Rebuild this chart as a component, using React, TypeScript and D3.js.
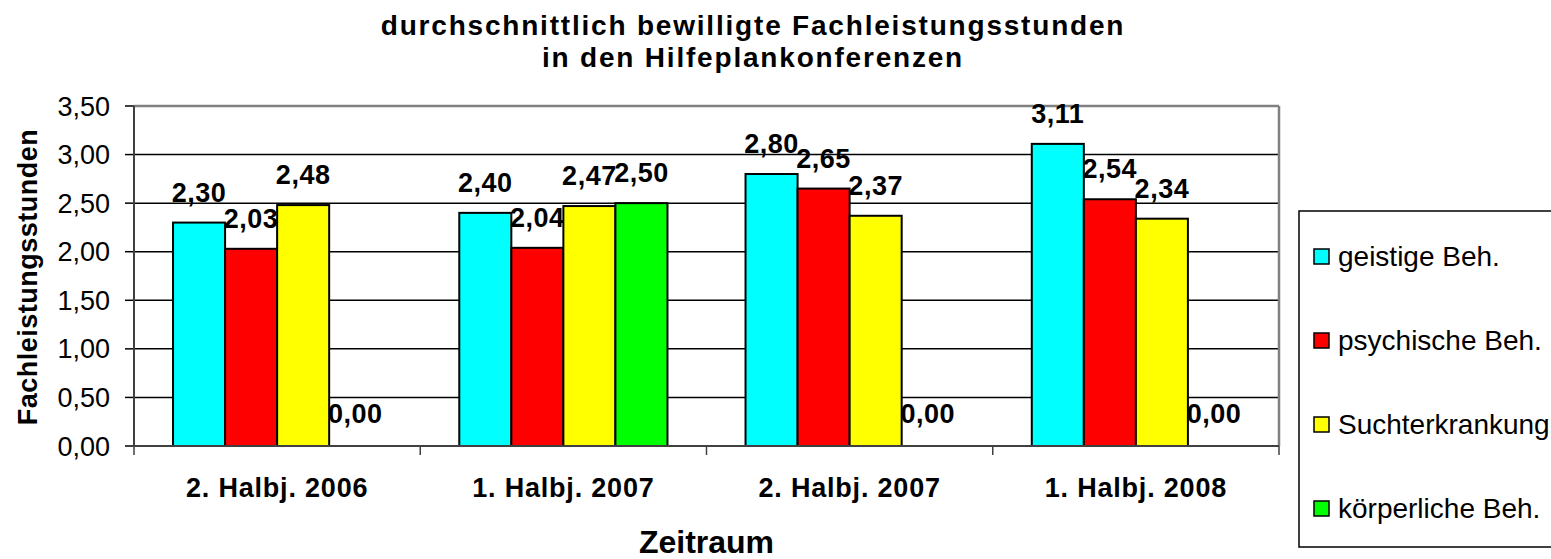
import React from "react";
import * as d3 from "d3";

const categories = ["2. Halbj. 2006", "1. Halbj. 2007", "2. Halbj. 2007", "1. Halbj. 2008"];
const seriesNames = ["geistige Beh.", "psychische Beh.", "Suchterkrankung", "körperliche Beh."];
const seriesColors = ["#00FFFF", "#FF0000", "#FFFF00", "#00FF00"];
const geistige = [2.3, 2.4, 2.8, 3.11];
const psychische = [2.03, 2.04, 2.65, 2.54];
const sucht = [2.48, 2.47, 2.37, 2.34];
const koerperlich = [0.0, 2.5, 0.0, 0.0];
const yTicks = [0, 0.5, 1, 1.5, 2, 2.5, 3, 3.5];
const titleLines = ["durchschnittlich bewilligte Fachleistungsstunden", "in den Hilfeplankonferenzen"];
const yTitle = "Fachleistungsstunden";
const xTitle = "Zeitraum";

const seriesValues = [geistige, psychische, sucht, koerperlich];

const W = 1551;
const H = 559;
const plot = { left: 134, right: 1279, top: 106, bottom: 446 };
const FONT = "Arial, 'Liberation Sans', sans-serif";

const fmt = (v: number) => d3.format(".2f")(v).replace(".", ",");

export default function App() {
  const x0 = d3.scaleBand<string>().domain(categories).range([plot.left, plot.right]).padding(0);
  const x1 = d3
    .scaleBand<string>()
    .domain(seriesNames)
    .range([0, x0.bandwidth()])
    .paddingInner(0)
    .paddingOuter(0.75);
  const y = d3.scaleLinear().domain([0, 3.5]).range([plot.bottom, plot.top]);

  const boundaries = categories.map((c) => x0(c) as number).concat([plot.right]);

  return (
    <svg
      width={W}
      height={H}
      style={{ position: "absolute", left: 0, top: 0, background: "#fff" }}
      fontFamily={FONT}
    >
      <rect x={0} y={0} width={W} height={H} fill="#fff" />
      {/* title */}
      {titleLines.map((t, i) => (
        <text
          key={i}
          x={753}
          y={35 + i * 32}
          textAnchor="middle"
          fontSize={28}
          fontWeight="bold"
          letterSpacing={1.8}
        >
          {t}
        </text>
      ))}
      {/* plot background */}
      <rect x={plot.left} y={plot.top} width={plot.right - plot.left} height={plot.bottom - plot.top} fill="#fff" />
      {/* gridlines */}
      {yTicks.slice(1).map((t) => (
        <line key={t} x1={plot.left} x2={plot.right} y1={y(t)} y2={y(t)} stroke="#000" strokeWidth={1.5} />
      ))}
      {/* plot border top/right */}
      <line x1={plot.left} x2={plot.right} y1={plot.top} y2={plot.top} stroke="#808080" strokeWidth={2.5} />
      <line x1={plot.right} x2={plot.right} y1={plot.top} y2={plot.bottom} stroke="#808080" strokeWidth={2.5} />
      {/* y ticks + labels */}
      {yTicks.map((t) => (
        <g key={"yt" + t}>
          <line x1={plot.left - 9} x2={plot.left} y1={y(t)} y2={y(t)} stroke="#000" strokeWidth={1.5} />
          <text x={110} y={y(t) + 9.5} textAnchor="end" fontSize={27}>
            {fmt(t)}
          </text>
        </g>
      ))}
      {/* bars */}
      {categories.map((c, ci) =>
        seriesNames.map((s, si) => {
          const v = seriesValues[si][ci];
          const bx = (x0(c) as number) + (x1(s) as number);
          const bw = x1.bandwidth();
          const top = y(v);
          return (
            <g key={c + s}>
              {v > 0 && (
                <rect
                  x={bx}
                  y={top}
                  width={bw}
                  height={plot.bottom - top}
                  fill={seriesColors[si]}
                  stroke="#000"
                  strokeWidth={2}
                />
              )}
              <text
                x={bx + bw / 2}
                y={top - 21 + (v === 0 ? -2 : 0)}
                textAnchor="middle"
                fontSize={27}
                fontWeight="bold"
                letterSpacing={0.5}
              >
                {fmt(v)}
              </text>
            </g>
          );
        })
      )}
      {/* axes */}
      <line x1={plot.left} x2={plot.left} y1={plot.top} y2={plot.bottom} stroke="#404040" strokeWidth={2} />
      <line x1={plot.left} x2={plot.right} y1={plot.bottom} y2={plot.bottom} stroke="#404040" strokeWidth={2} />
      {boundaries.map((b, i) => (
        <line key={"xt" + i} x1={b} x2={b} y1={plot.bottom} y2={plot.bottom + 9} stroke="#404040" strokeWidth={1.5} />
      ))}
      {categories.map((c) => (
        <text
          key={"xl" + c}
          x={(x0(c) as number) + x0.bandwidth() / 2}
          y={497}
          textAnchor="middle"
          fontSize={27}
          fontWeight="bold"
          letterSpacing={0.8}
        >
          {c}
        </text>
      ))}
      {/* axis titles */}
      <text
        transform={`translate(37, ${(plot.top + plot.bottom) / 2 + 1}) rotate(-90)`}
        textAnchor="middle"
        fontSize={27}
        fontWeight="bold"
        letterSpacing={0.5}
      >
        {yTitle}
      </text>
      <text x={(plot.left + plot.right) / 2} y={553} textAnchor="middle" fontSize={32} fontWeight="bold">
        {xTitle}
      </text>
      {/* legend */}
      <rect x={1299} y={211} width={270} height={336} fill="#fff" stroke="#000" strokeWidth={1.5} />
      {seriesNames.map((s, i) => {
        const cy = 256 + i * 84;
        return (
          <g key={"lg" + s}>
            <rect x={1314} y={cy - 7} width={15} height={15} fill={seriesColors[i]} stroke="#000" strokeWidth={1.5} />
            <text x={1338} y={cy + 10} fontSize={28}>
              {s}
            </text>
          </g>
        );
      })}
    </svg>
  );
}
